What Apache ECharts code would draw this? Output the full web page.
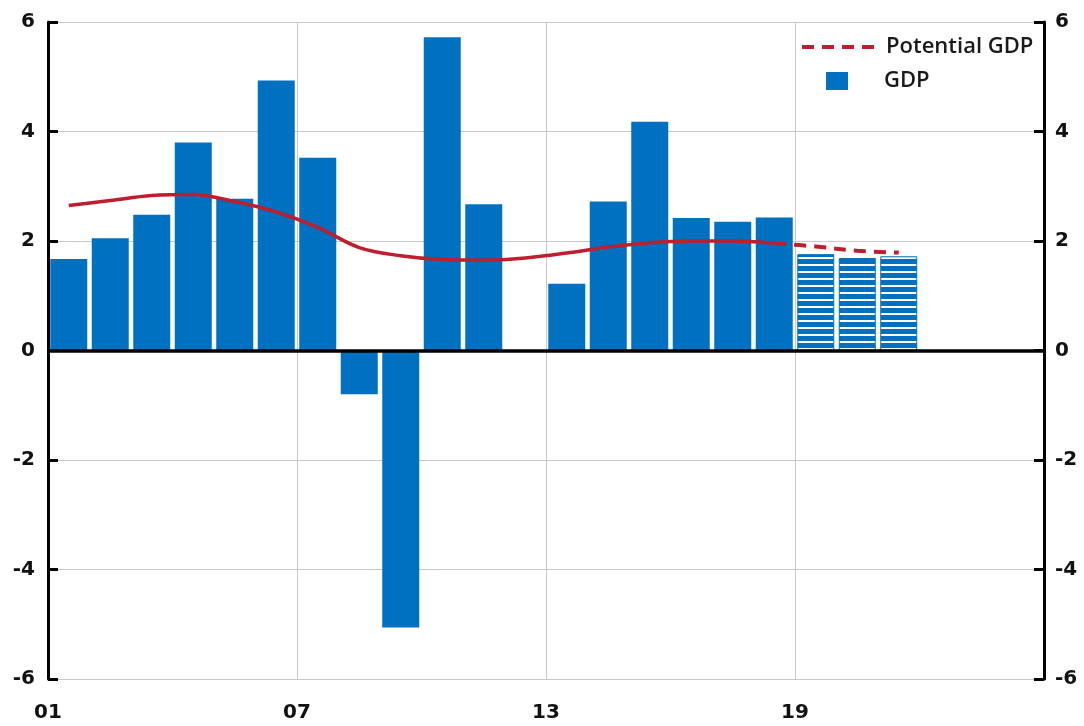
<!DOCTYPE html>
<html>
<head>
<meta charset="utf-8">
<script src="https://cdn.jsdelivr.net/npm/echarts@6/dist/echarts.min.js"></script>
<style>
html,body{margin:0;padding:0;background:#fff;}
#chart{width:1084px;height:726px;}
</style>
</head>
<body>
<div id="chart"></div>
<script>
// ---- data ----
var years = [2001,2002,2003,2004,2005,2006,2007,2008,2009,2010,2011,2012,2013,2014,2015,2016,2017,2018,2019,2020,2021];
var gdp = [1.67,2.05,2.48,3.80,2.77,4.93,3.52,-0.80,-5.06,5.72,2.67,0.00,1.22,2.72,4.18,2.42,2.35,2.43,1.76,1.69,1.72];
var forecastFrom = 2019;
var potentialYears = [2001,2002,2003,2004,2005,2006,2007,2008,2009,2010,2011,2012,2013,2014,2015,2016,2017,2018];
var potential = [2.65,2.74,2.83,2.85,2.72,2.53,2.25,1.88,1.73,1.66,1.65,1.69,1.78,1.89,1.97,2.00,2.00,1.96];
var potentialFcYears = [2018,2019,2020,2021];
var potentialFc = [1.96,1.90,1.82,1.79];
var yTicks = [-6,-4,-2,0,2,4,6];
var xTickYears = [2001,2007,2013,2019,2025];

// ---- styles ----
var BLUE = '#0070C0';
var RED = '#BE1E2D';
var GRID = '#c8c8c8';
var FONT = 'DejaVu Sans';

var pc = document.createElement('canvas');
pc.width = 8; pc.height = 7;
var pctx = pc.getContext('2d');
pctx.fillStyle = '#ffffff'; pctx.fillRect(0,0,8,7);
pctx.fillStyle = BLUE; pctx.fillRect(0,0,8,5);

var barData = years.map(function(y,i){
  var item = {value:[y+0.5, gdp[i]]};
  if (y >= forecastFrom) {
    item.itemStyle = {color:{image:pc, repeat:'repeat'}, borderColor:BLUE, borderWidth:1};
  }
  return item;
});

var yAxisCommon = {
  type:'value', min:yTicks[0], max:yTicks[yTicks.length-1], interval:2,
  axisLine:{show:true, lineStyle:{color:'#000', width:3}},
  axisTick:{show:true, inside:true, length:10, lineStyle:{color:'#000', width:3}},
  axisLabel:{color:'#111', fontFamily:FONT, fontWeight:'bold', fontSize:20},
  splitLine:{show:false}
};

var legendText = {fontFamily:'Open Sans', fontSize:22, fontWeight:600, color:'#1a1a1a'};

var chart = echarts.init(document.getElementById('chart'), null, {renderer:'canvas'});
chart.setOption({
  animation:false,
  backgroundColor:'#fff',
  grid:{left:48, right:40, top:22, bottom:47, containLabel:false},
  legend:[
    {data:[{name:'Potential GDP', itemStyle:{opacity:0}}], left:800, top:36, padding:0,
     itemWidth:72, itemHeight:20,
     lineStyle:{width:4, type:[12,8], color:RED},
     textStyle:Object.assign({}, legendText, {padding:[0,0,0,7]})},
    {data:[{name:'GDP', icon:'rect'}], left:826, top:70, padding:0, itemWidth:22, itemHeight:18,
     textStyle:Object.assign({}, legendText, {padding:[0,0,0,31]})}
  ],
  xAxis:{
    type:'value', min:xTickYears[0], max:xTickYears[xTickYears.length-1], interval:6,
    axisLine:{show:false}, axisTick:{show:false},
    axisLabel:{color:'#111', fontFamily:FONT, fontWeight:'bold', fontSize:20, margin:24,
      showMaxLabel:false,
      formatter:function(v){return String(v).slice(2);}},
    splitLine:{show:true, lineStyle:{color:GRID, width:1}}
  },
  yAxis:[
    Object.assign({}, yAxisCommon, {position:'left',
      axisLabel:Object.assign({}, yAxisCommon.axisLabel, {margin:13}),
      splitLine:{show:true, lineStyle:{color:GRID, width:1}}}),
    Object.assign({}, yAxisCommon, {position:'right',
      axisLabel:Object.assign({}, yAxisCommon.axisLabel, {margin:11})})
  ],
  series:[
    {name:'GDP', type:'bar', data:barData, barWidth:37, itemStyle:{color:BLUE},
     z:2,
     markLine:{silent:true, symbol:'none', label:{show:false},
       lineStyle:{color:'#000', width:3.5, type:'solid'},
       data:[{yAxis:0}], z:5}},
    {name:'Potential', type:'line', smooth:0.35, symbol:'none', showSymbol:false,
     data:potentialYears.map(function(y,i){return [y+0.5, potential[i]];}),
     lineStyle:{color:RED, width:3.5}, itemStyle:{color:RED}, z:4},
    {name:'Potential GDP', type:'line', smooth:0.35, symbol:'none', showSymbol:false,
     data:potentialFcYears.map(function(y,i){return [y+0.5, potentialFc[i]];}),
     lineStyle:{color:RED, width:4, type:[12,8]}, itemStyle:{color:RED}, z:4}
  ]
});
</script>
</body>
</html>
